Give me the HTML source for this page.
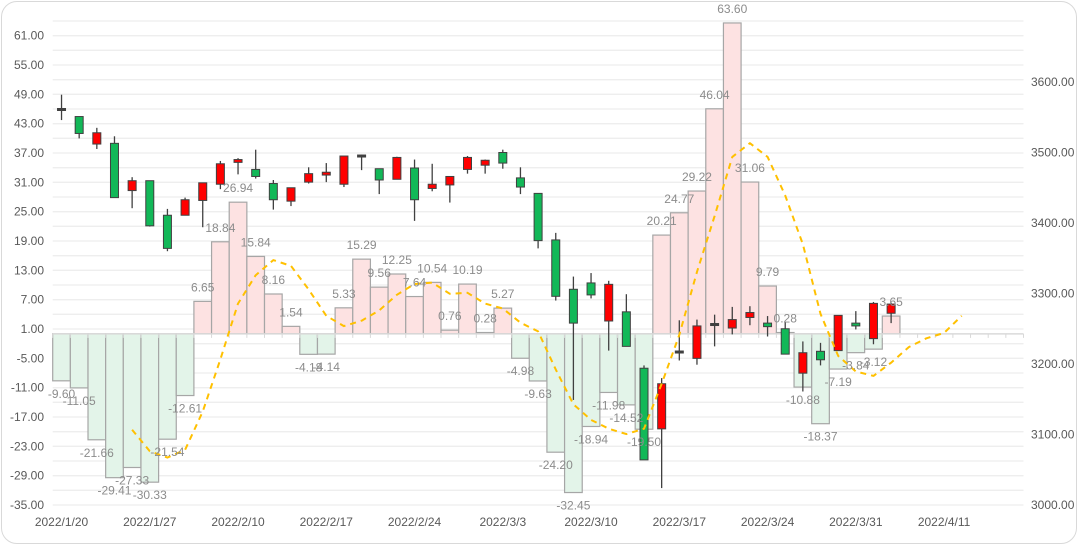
<!DOCTYPE html>
<html><head><meta charset="utf-8"><style>
html,body{margin:0;padding:0;background:#fff;}
body{width:1080px;height:547px;overflow:hidden;font-family:"Liberation Sans",sans-serif;}
#frame{position:absolute;left:1px;top:1px;width:1076px;height:543px;border:1px solid #d9d9d9;border-radius:16px;box-sizing:border-box;}
svg{position:absolute;left:0;top:0;}
text{font-family:"Liberation Sans",sans-serif;}
</style></head><body>
<div id="frame"></div>
<svg id="chart" width="1080" height="547"></svg>
<script>
const categories=["2022/1/20","2022/1/21","2022/1/24","2022/1/25","2022/1/26","2022/1/27","2022/1/28","2022/2/7","2022/2/8","2022/2/9","2022/2/10","2022/2/11","2022/2/14","2022/2/15","2022/2/16","2022/2/17","2022/2/18","2022/2/21","2022/2/22","2022/2/23","2022/2/24","2022/2/25","2022/2/28","2022/3/1","2022/3/2","2022/3/3","2022/3/4","2022/3/7","2022/3/8","2022/3/9","2022/3/10","2022/3/11","2022/3/14","2022/3/15","2022/3/16","2022/3/17","2022/3/18","2022/3/21","2022/3/22","2022/3/23","2022/3/24","2022/3/25","2022/3/28","2022/3/29","2022/3/30","2022/3/31","2022/4/1","2022/4/6","2022/4/7","2022/4/8","2022/4/11","2022/4/12","2022/4/13","2022/4/14","2022/4/15"];
const histValues=[-9.60,-11.05,-21.66,-29.41,-27.33,-30.33,-21.54,-12.61,6.65,18.84,26.94,15.84,8.16,1.54,-4.18,-4.14,5.33,15.29,9.56,12.25,7.64,10.54,0.76,10.19,0.28,5.27,-4.98,-9.63,-24.20,-32.45,-18.94,-11.98,-14.52,-19.50,20.21,24.77,29.22,46.04,63.60,31.06,9.79,0.28,-10.88,-18.37,-7.19,-3.84,-3.12,3.65];
const openValues=[3559,3551,3512,3513,3446,3460,3411,3411,3432,3455,3486,3476,3456,3431,3458,3468,3455,3493,3477,3462,3478,3449,3454,3476,3482,3500,3464,3442,3376,3306,3315,3261,3274,3194,3108,3216,3208,3255,3251,3266,3258,3250,3187,3218,3219,3258,3236,3272];
const highValues=[3582,3551,3535,3523,3465,3460,3420,3436,3457,3488,3492,3504,3461,3450,3479,3485,3495,3497,3477,3494,3490,3484,3466,3495,3490,3504,3479,3442,3386,3324,3329,3318,3299,3198,3180,3262,3263,3270,3281,3282,3268,3259,3232,3230,3269,3275,3288,3287];
const lowValues=[3546,3520,3505,3436,3421,3395,3360,3411,3394,3448,3469,3463,3419,3424,3456,3458,3451,3475,3441,3462,3403,3445,3429,3470,3470,3477,3441,3364,3290,3149,3293,3219,3225,3064,3024,3205,3199,3225,3242,3255,3239,3214,3161,3198,3219,3249,3228,3258];
const closeValues=[3561,3527,3528,3436,3460,3396,3364,3433,3457,3484,3490,3466,3433,3450,3470,3472,3495,3495,3461,3493,3433,3455,3466,3493,3489,3485,3451,3375,3296,3258,3298,3313,3225,3064,3172,3217,3254,3256,3263,3273,3253,3214,3216,3206,3269,3254,3286,3285];
const lineStart=4;
const lineValues=[-19.6,-24.0,-25.3,-23.7,-15.9,-5.2,6.2,12.0,15.1,13.9,9.1,3.7,1.6,2.7,4.8,8.0,10.2,10.5,8.2,8.4,6.2,5.2,2.3,0.5,-7.3,-14.4,-17.6,-19.4,-20.5,-19.4,-10.2,-0.2,12.7,24.1,36.2,39.0,36.2,28.3,18.3,4.1,-4.5,-7.7,-8.6,-5.9,-2.7,-0.9,0.2,3.7];
const leftTicks=[61,55,49,43,37,31,25,19,13,7,1,-5,-11,-17,-23,-29,-35];
const rightTicks=[3600,3500,3400,3300,3200,3100,3000];
const xLabelEvery=5;

const NS="http://www.w3.org/2000/svg";
const svg=document.getElementById('chart');
const PL=52.7,PR=1023.5,PT=21,PB=505;
const step=(PR-PL)/categories.length;
const LMIN=-35,LMAX=64;
const RMIN=3000,RMAX=3000+(PB-PT)/0.705;
function xc(i){return PL+(i+0.5)*step;}
function yl(v){return PB-(v-LMIN)/(LMAX-LMIN)*(PB-PT);}
function yr(v){return PB-(v-RMIN)/(RMAX-RMIN)*(PB-PT);}
function mk(tag,attrs,parent){const e=document.createElementNS(NS,tag);for(const k in attrs)e.setAttribute(k,attrs[k]);(parent||svg).appendChild(e);return e;}

// gridlines every 3 units
const grid=mk('g',{});


for(let v=LMIN;v<=LMAX+0.01;v+=3){
  const gl=mk('line',{x1:PL,x2:PR,y1:yl(v),y2:yl(v),stroke:'#eeeeee','stroke-width':1.3},grid);
  
  
}
// left ticks
leftTicks.forEach(v=>{
  const t=mk('text',{x:44,y:yl(v)+4,'text-anchor':'end','font-size':12,fill:'#595959'});
  t.textContent=v.toFixed(2);
  
  
});
rightTicks.forEach(v=>{
  const t=mk('text',{x:1031,y:yr(v)+4,'text-anchor':'start','font-size':12,fill:'#595959'});
  t.textContent=v.toFixed(2);
  
  
});
// bars
const bars=mk('g',{});


histValues.forEach((v,i)=>{
  const x=PL+i*step,y0=yl(0),y1=yl(v);
  const r=mk('rect',{x:x,y:Math.min(y0,y1),width:step,height:Math.abs(y1-y0),fill:v>=0?'#fde2e2':'#e3f4e9',stroke:'#a6a6a6','stroke-width':1.2},bars);
  
  
});
// zero axis line with ticks
const ax=mk('line',{x1:PL,x2:PR,y1:yl(0),y2:yl(0),stroke:'#d9d9d9','stroke-width':1.5});


for(let i=0;i<=categories.length;i++){
  const tk=mk('line',{x1:PL+i*step,x2:PL+i*step,y1:yl(0),y2:yl(0)+4,stroke:'#d9d9d9','stroke-width':1});
  
  
}
// candles
const cg=mk('g',{});


openValues.forEach((o,i)=>{
  const c=closeValues[i],h=highValues[i],l=lowValues[i],x=xc(i);
  const w=mk('line',{x1:x,x2:x,y1:yr(h),y2:yr(l),stroke:'#404040','stroke-width':1.3},cg);
  
  
  const top=yr(Math.max(o,c)),bot=yr(Math.min(o,c));
  let hgt=bot-top;const doji=hgt<2;
  const b=mk('rect',{x:x-4,y:doji?top-1:top,width:8,height:doji?2:hgt,fill:doji?'#404040':(c>=o?'#ff0000':'#12b858'),stroke:'#404040','stroke-width':1},cg);
  
  
});
// dashed line
let d='';
lineValues.forEach((v,k)=>{const i=k+lineStart;d+=(k?' L':'M')+xc(i).toFixed(1)+' '+yl(v).toFixed(1);});
const ln=mk('path',{d:d,fill:'none',stroke:'#ffc000','stroke-width':2,'stroke-dasharray':'6 5','stroke-linejoin':'round'});


// data labels
histValues.forEach((v,i)=>{
  const t=mk('text',{x:xc(i),y:v>=0?yl(v)-10:yl(v)+17,'text-anchor':'middle','font-size':12,fill:'#8c8c8c'});
  t.textContent=v.toFixed(2);
  
  
});
// x labels
categories.forEach((c,i)=>{
  if(i%xLabelEvery!==0)return;
  const t=mk('text',{x:xc(i),y:526,'text-anchor':'middle','font-size':12,fill:'#595959'});
  t.textContent=c;
  
  
});
</script>
</body></html>
